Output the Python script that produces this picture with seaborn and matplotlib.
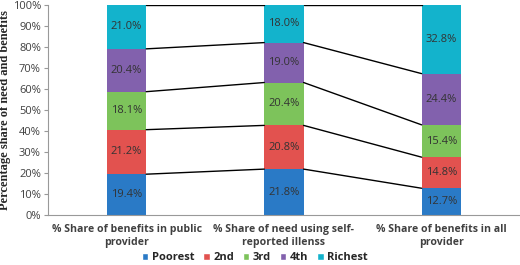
import numpy as np
import pandas as pd
import matplotlib
matplotlib.use('Agg')
import matplotlib.pyplot as plt
import seaborn as sns
from matplotlib.patches import Patch

categories = ['% Share of benefits in public\nprovider',
              '% Share of need using self-\nreported illenss',
              '% Share of benefits in all\nprovider']
groups = ['Poorest', '2nd', '3rd', '4th', 'Richest']
poorest = [19.4, 21.8, 12.7]
second = [21.2, 20.8, 14.8]
third = [18.1, 20.4, 15.4]
fourth = [20.4, 19.0, 24.4]
richest = [21.0, 18.0, 32.8]
colors = ['#2a7ac6', '#e2524f', '#7dc35b', '#8261ad', '#13b3cc']

sns.set_style('white')
plt.rcParams['font.family'] = ['Open Sans', 'DejaVu Sans']

vals = np.array([poorest, second, third, fourth, richest])
# normalise each column to 100% like Excel's 100% stacked bars
shares = vals / vals.sum(axis=0) * 100
cum = np.cumsum(shares, axis=0)

fig = plt.figure(figsize=(5.2, 2.65), dpi=100)
ax = fig.add_axes([0.092, 0.189, 0.908, 0.793])

# draw cumulative tops from the highest layer down so lower layers sit on top
for i in range(len(groups) - 1, -1, -1):
    df = pd.DataFrame({'cat': categories, 'top': cum[i]})
    sns.barplot(data=df, x='cat', y='top', color=colors[i], width=0.25,
                saturation=1, ax=ax, edgecolor='none')

bw = 0.25
for i in range(len(groups)):
    for j in range(len(categories) - 1):
        ax.plot([j + bw / 2, j + 1 - bw / 2], [cum[i][j], cum[i][j + 1]],
                color='black', lw=1, zorder=3)

for i in range(len(groups)):
    for j in range(len(categories)):
        ax.text(j, cum[i][j] - shares[i][j] / 2, f'{vals[i][j]:.1f}%',
                ha='center', va='center', fontsize=8, color='#333333')

ax.set_xlim(-0.5, 2.5)
ax.set_ylim(0, 100)
ax.set_yticks(range(0, 101, 10))
ax.set_yticklabels([f'{t}%' for t in range(0, 101, 10)], fontsize=8, color='#404040')
ax.set_xticks(range(len(categories)))
ax.set_xticklabels(categories, fontsize=7.6, fontweight='bold', color='#404040')
for t in ax.get_xticklabels():
    t.set_multialignment('center')
ax.set_xlabel('')
ax.set_ylabel('Percentage share of need and benefits', fontsize=9, fontweight='bold',
              family='Liberation Serif', labelpad=1)
ax.tick_params(axis='y', left=True, length=3, color='#999999', pad=2)
ax.tick_params(axis='x', bottom=False, pad=3)
for s in ['top', 'right']:
    ax.spines[s].set_visible(False)
for s in ['left', 'bottom']:
    ax.spines[s].set_color('#999999')
    ax.spines[s].set_linewidth(0.8)

handles = [Patch(facecolor=c, label=g) for c, g in zip(colors, groups)]
fig.legend(handles=handles, loc='lower center', bbox_to_anchor=(0.49, -0.03), ncol=5,
           frameon=False, handlelength=0.6, handleheight=0.6,
           handletextpad=0.3, columnspacing=0.8, prop={'weight': 'bold', 'size': 8})

fig.savefig('out.png', dpi=100)
